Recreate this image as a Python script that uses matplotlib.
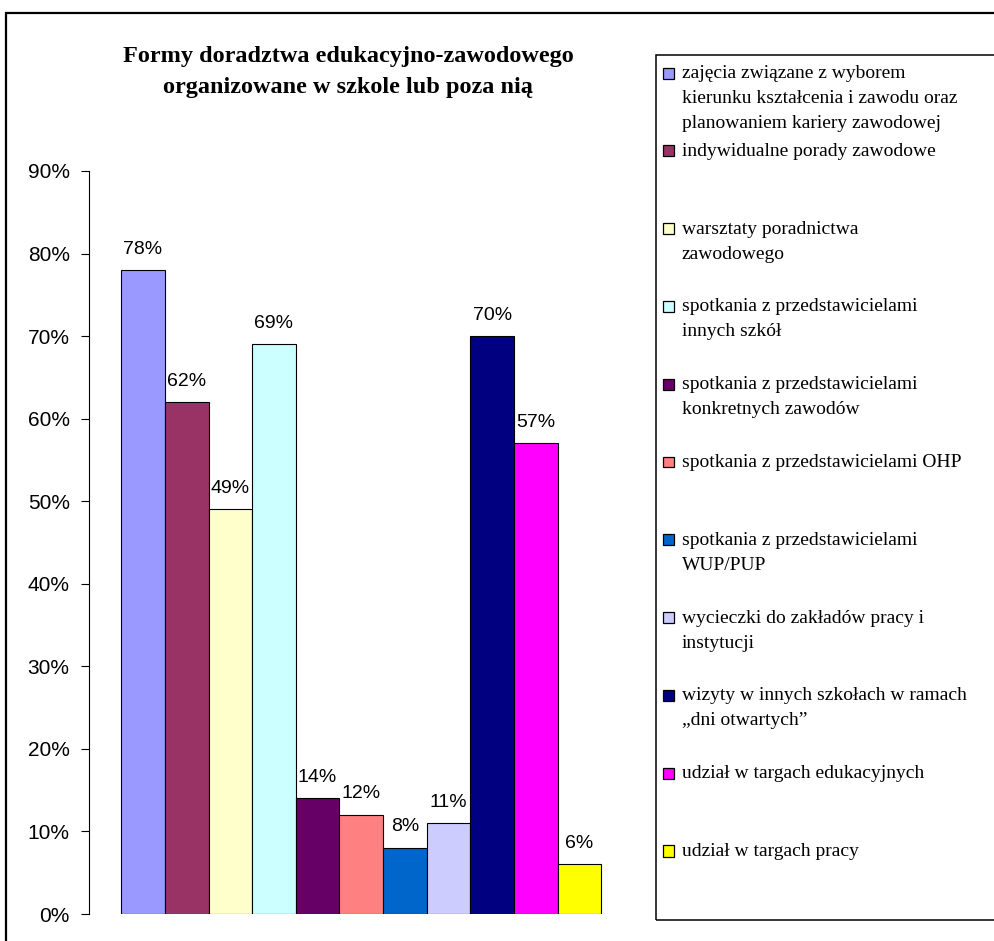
import matplotlib
matplotlib.use("Agg")
import matplotlib.pyplot as plt
from matplotlib.patches import Rectangle
from matplotlib.ticker import FuncFormatter

# dane
labels = [
    "zajęcia związane z wyborem\nkierunku kształcenia i zawodu oraz\nplanowaniem kariery zawodowej",
    "indywidualne porady zawodowe",
    "warsztaty poradnictwa\nzawodowego",
    "spotkania z przedstawicielami\ninnych szkół",
    "spotkania z przedstawicielami\nkonkretnych zawodów",
    "spotkania z przedstawicielami OHP",
    "spotkania z przedstawicielami\nWUP/PUP",
    "wycieczki do zakładów pracy i\ninstytucji",
    "wizyty w innych szkołach w ramach\n„dni otwartych”",
    "udział w targach edukacyjnych",
    "udział w targach pracy",
]
values = [78, 62, 49, 69, 14, 12, 8, 11, 70, 57, 6]
colors = ["#9999FF", "#993366", "#FFFFCC", "#CCFFFF", "#660066", "#FF8080",
          "#0066CC", "#CCCCFF", "#000080", "#FF00FF", "#FFFF00"]
yticks = [0, 10, 20, 30, 40, 50, 60, 70, 80, 90]
title = "Formy doradztwa edukacyjno-zawodowego\norganizowane w szkole lub poza nią"

W, H = 994, 941
fig = plt.figure(figsize=(W / 100, H / 100), dpi=100)


def fx(x):
    return x / W


def fy(y):
    return 1 - y / H


# ramka całego wykresu
fig.add_artist(Rectangle((fx(5.5), fy(1000)), fx(1100), fy(12.5) - fy(1000),
                         transform=fig.transFigure, fill=False,
                         edgecolor="black", linewidth=1.6))

ax = fig.add_axes([fx(88.5), fy(914), fx(634) - fx(88.5), fy(171) - fy(914)])
x = list(range(len(values)))
bars = ax.bar(x, values, width=1.0, color=colors, edgecolor="black", linewidth=0.8)
ax.set_xlim(-0.5 - 0.75, len(values) - 0.5 + 0.75)
ax.set_ylim(0, 90)
ax.set_yticks(yticks)
ax.yaxis.set_major_formatter(FuncFormatter(lambda v, p: f"{v:.0f}%"))
ax.tick_params(axis="y", direction="out", length=5.5, width=0.8, pad=8,
               labelsize=15, labelcolor="black")
for lab in ax.get_yticklabels():
    lab.set_family("Liberation Sans")
ax.set_xticks([])
for s in ["top", "right", "bottom"]:
    ax.spines[s].set_visible(False)
ax.spines["left"].set_linewidth(0.8)
ax.patch.set_alpha(0)

for b, v in zip(bars, values):
    ax.annotate(f"{v}%", (b.get_x() + b.get_width() / 2, v),
                xytext=(0, 9), textcoords="offset points",
                ha="center", va="bottom", fontsize=14,
                family="Liberation Sans")

fig.text(fx(348), fy(72), title, ha="center", va="center",
         fontsize=17.5, fontweight="bold", family="Liberation Serif",
         linespacing=1.6)

# legenda
fig.add_artist(Rectangle((fx(655.5), fy(920)), fx(500), fy(55) - fy(920),
                         transform=fig.transFigure, fill=False,
                         edgecolor="black", linewidth=1.1))
for i, (lab, c) in enumerate(zip(labels, colors)):
    cy = 73 + i * 77.8
    fig.add_artist(Rectangle((fx(663), fy(cy + 5.5)), fx(11), fy(cy - 5.5) - fy(cy + 5.5),
                             transform=fig.transFigure, facecolor=c,
                             edgecolor="black", linewidth=0.9))
    fig.text(fx(682), fy(cy - 8), lab, ha="left", va="top",
             fontsize=14, family="Liberation Serif", linespacing=1.62)

fig.savefig("out.png", dpi=100)
